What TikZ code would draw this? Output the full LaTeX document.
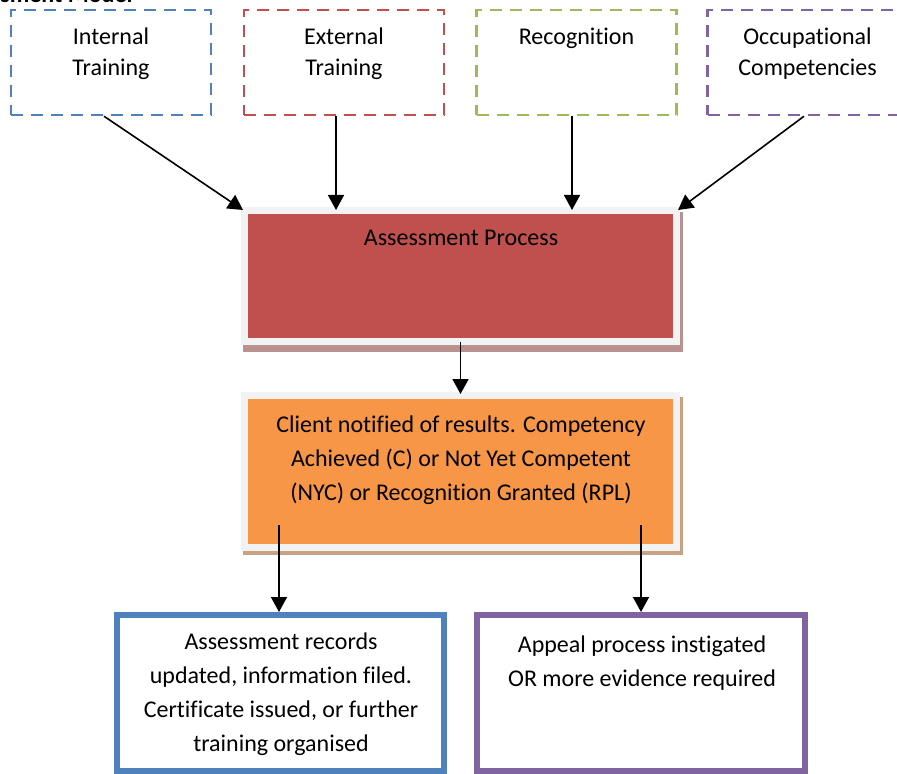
\documentclass[tikz,border=0pt]{standalone}
\usepackage{fontspec}
\setmainfont{Carlito}[Ligatures={NoCommon}]
\usetikzlibrary{arrows.meta,backgrounds}
\definecolor{dashblue}{HTML}{4F81BD}
\definecolor{dashred}{HTML}{C0504D}
\definecolor{dashgreen}{HTML}{9BBB59}
\definecolor{dashpurple}{HTML}{8064A2}
\definecolor{procred}{HTML}{C0504D}
\definecolor{notiforange}{HTML}{F79646}
\definecolor{framegray}{HTML}{F2F2F2}
\definecolor{procshadow}{HTML}{B99190}
\definecolor{notifshadow}{HTML}{C9A283}
\tikzset{
  dbox/.style={line width=1.25pt, dash pattern=on 6pt off 4pt, minimum width=100pt, minimum height=52.5pt, inner sep=0pt},
  toptxt/.style={align=center, inner sep=0pt, anchor=north, font=\fontsize{12}{15.5}\selectfont},
  txt/.style={align=center, inner sep=0pt, anchor=north, font=\fontsize{12}{17}\selectfont},
  pbox/.style={draw=framegray, line width=3.5pt, minimum width=216pt, inner sep=0pt},
  obox/.style={line width=3pt, minimum height=78pt, inner sep=0pt},
  arr/.style={line width=0.8pt, -{Triangle[length=7.5pt,width=8pt]}}
}
\begin{document}
\begin{tikzpicture}[x=0.5pt,y=-0.5pt]
\clip (0,0) rectangle (897,774);
\node[anchor=base east, inner sep=0pt, font=\bfseries\fontsize{12}{14}\selectfont] (title) at (133,3) {Assessment Model};

\node[dbox, draw=dashblue] (int) at (111,62.5) {};
\node[toptxt] (intT) at (111,27.5) {Internal\\Training};
\node[dbox, draw=dashred] (ext) at (344,62.5) {};
\node[toptxt] (extT) at (344,27.5) {External\\Training};
\node[dbox, draw=dashgreen] (rec) at (576.5,62.5) {};
\node[toptxt] (recT) at (576.5,27.5) {Recognition};
\node[dbox, draw=dashpurple] (occ) at (807.5,62.5) {};
\node[toptxt] (occT) at (807.5,27.5) {Occupational\\Competencies};

\node[pbox, fill=procred, minimum height=65.5pt] (proc) at (460.5,276) {};
\node[txt] (procT) at (461,230) {Assessment Process};
\node[pbox, fill=notiforange, minimum height=76pt] (notif) at (460.5,471.5) {};
\node[txt] (notifT) at (461,415) {Client notified of results. Competency\\Achieved (C) or Not Yet Competent\\(NYC) or Recognition Granted (RPL)};
\begin{scope}[on background layer]
\fill[procshadow] (243,212) rectangle (683,352);
\fill[notifshadow] (243,397) rectangle (683,555);
\end{scope}

\node[obox, draw=dashblue, minimum width=163.5pt] (records) at (280.5,693) {};
\node[txt] (recordsT) at (281,632) {Assessment records\\updated, information filed.\\Certificate issued, or further\\training organised};
\node[obox, draw=dashpurple, minimum width=164pt] (appeal) at (641,693) {};
\node[txt] (appealT) at (642,635) {Appeal process instigated\\OR more evidence required};

\draw[arr] ([xshift=-3.5pt]int.south) -- ([xshift=1pt,yshift=-1.5pt]proc.north west);
\draw[arr] ([xshift=-4pt]ext.south) -- ([xshift=-62.25pt,yshift=-1.5pt]proc.north);
\draw[arr] ([xshift=-2.25pt]rec.south) -- ([xshift=55.75pt,yshift=-1.5pt]proc.north);
\draw[arr] ([xshift=-1.75pt]occ.south) -- ([xshift=-1pt,yshift=-1.5pt]proc.north east);
\draw[arr] ([yshift=1.5pt]proc.south) -- ([yshift=-1pt]notif.north);
\draw[arr] ([xshift=-90.75pt,yshift=13pt]notif.south) -- ([xshift=-0.75pt]records.north);
\draw[arr] ([xshift=90.25pt,yshift=13pt]notif.south) -- (appeal.north);
\end{tikzpicture}
\end{document}
